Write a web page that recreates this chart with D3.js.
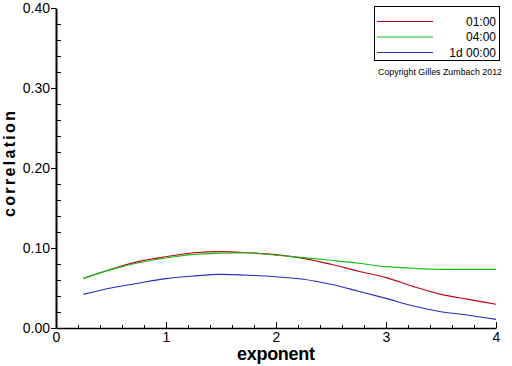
<!DOCTYPE html>
<html>
<head>
<meta charset="utf-8">
<script src="https://cdn.jsdelivr.net/npm/d3@7"></script>
<style>
  body { margin: 0; background: #fff; }
  svg { display: block; }
  .tick text { font-family: "Liberation Sans", Arial, sans-serif; fill: #000; }
</style>
</head>
<body>
<div id="chart"></div>
<script>
// exponent values on the x axis
var exponents = [0.25, 0.5, 0.75, 1, 1.25, 1.5, 1.75, 2, 2.25, 2.5, 2.75, 3, 3.25, 3.5, 3.75, 4];
// correlation per time horizon
var corr0100 = [0.062, 0.0735, 0.083, 0.089, 0.094, 0.0955, 0.094, 0.0917, 0.087, 0.0796, 0.071, 0.063, 0.0517, 0.042, 0.0358, 0.0296];
var corr0400 = [0.062, 0.073, 0.0815, 0.0875, 0.092, 0.0935, 0.094, 0.091, 0.088, 0.0846, 0.081, 0.0767, 0.0746, 0.0733, 0.0733, 0.0733];
var corr1d = [0.042, 0.050, 0.056, 0.0617, 0.065, 0.067, 0.066, 0.064, 0.061, 0.0546, 0.046, 0.037, 0.0275, 0.0204, 0.016, 0.0108];
var seriesNames = ["01:00", "04:00", "1d 00:00"];
var seriesColors = ["#c00010", "#10c010", "#2a2ac0"];
var xTicks = [0, 1, 2, 3, 4];
var yTicks = [0, 0.1, 0.2, 0.3, 0.4];

(function() {
  var width = 512, height = 366;
  var pad = {left: 56, right: 16, top: 8, bottom: 38};
  var seriesValues = [corr0100, corr0400, corr1d];

  var svg = d3.select("#chart").append("svg")
    .attr("width", width)
    .attr("height", height);

  var x = d3.scaleLinear().domain([0, 4]).range([pad.left, width - pad.right]);
  var y = d3.scaleLinear().domain([0, 0.4]).range([height - pad.bottom, pad.top]);

  // minor ticks, pointing inside the plot
  var xMinor = d3.range(0, 4.001, 0.2).filter(function(v) { return Math.abs(v - Math.round(v)) > 1e-6; });
  var yMinor = d3.range(0, 0.4001, 0.02).filter(function(v) { return Math.abs(v * 10 - Math.round(v * 10)) > 1e-6; });

  svg.append("g")
    .attr("transform", "translate(0," + y(0) + ")")
    .call(d3.axisBottom(x).tickValues(xMinor).tickSize(-3).tickSizeOuter(0).tickFormat(""))
    .call(function(g) { g.select(".domain").remove(); });

  svg.append("g")
    .attr("transform", "translate(" + x(0) + ",0)")
    .call(d3.axisRight(y).tickValues(yMinor).tickSize(5).tickSizeOuter(0).tickFormat(""))
    .call(function(g) { g.select(".domain").remove(); });

  var xAxis = svg.append("g")
    .attr("transform", "translate(0," + y(0) + ")")
    .call(d3.axisBottom(x).tickValues(xTicks).tickSize(-6).tickSizeOuter(0).tickPadding(4).tickFormat(d3.format("d")));
  xAxis.selectAll("text").style("font-size", "14px");
  xAxis.select(".domain").attr("stroke-width", 1.5);

  var yAxis = svg.append("g")
    .attr("transform", "translate(" + x(0) + ",0)")
    .call(d3.axisLeft(y).tickValues(yTicks).tickSize(5).tickSizeOuter(0).tickPadding(1).tickFormat(d3.format(".2f")));
  yAxis.selectAll("text").style("font-size", "14px");
  yAxis.select(".domain").attr("stroke-width", 2);

  // curves
  var line = d3.line()
    .x(function(d, i) { return x(exponents[i]); })
    .y(function(d) { return y(d); })
    .curve(d3.curveMonotoneX);

  svg.selectAll("path.series")
    .data(seriesValues)
    .enter().append("path")
    .attr("class", "series")
    .attr("fill", "none")
    .attr("stroke", function(d, i) { return seriesColors[i]; })
    .attr("stroke-width", 1.1)
    .attr("d", line);

  // axis titles
  svg.append("text")
    .attr("x", (x(0) + x(4)) / 2)
    .attr("y", 360)
    .attr("text-anchor", "middle")
    .attr("textLength", 78)
    .attr("lengthAdjust", "spacing")
    .style("font-family", "'Liberation Sans', Arial, sans-serif")
    .style("font-weight", "bold")
    .style("font-size", "18px")
    .text("exponent");

  svg.append("text")
    .attr("transform", "translate(15,164) rotate(-90)")
    .attr("text-anchor", "middle")
    .attr("textLength", 106)
    .attr("lengthAdjust", "spacing")
    .style("font-family", "'Liberation Sans', Arial, sans-serif")
    .style("font-weight", "bold")
    .style("font-size", "16px")
    .text("correlation");

  // legend
  var legend = svg.append("g");
  legend.append("rect")
    .attr("x", 374.5)
    .attr("y", 6.5)
    .attr("width", 125)
    .attr("height", 54)
    .attr("fill", "#fff")
    .attr("stroke", "#000");

  var rows = legend.selectAll("g.row")
    .data(seriesNames)
    .enter().append("g")
    .attr("class", "row")
    .attr("transform", function(d, i) { return "translate(0," + (21.5 + i * 15.5) + ")"; });
  rows.append("line")
    .attr("x1", 377)
    .attr("x2", 433)
    .attr("y1", 0)
    .attr("y2", 0)
    .style("stroke-width", 1)
    .style("stroke", function(d) { return seriesColors[seriesNames.indexOf(d)]; });
  rows.append("text")
    .attr("x", 496)
    .attr("y", 0)
    .attr("dy", "0.36em")
    .attr("text-anchor", "end")
    .style("font-family", "'Liberation Sans', Arial, sans-serif")
    .style("font-size", "12px")
    .text(function(d) { return d; });

  svg.append("text")
    .attr("x", 378)
    .attr("y", 75)
    .attr("textLength", 124)
    .attr("lengthAdjust", "spacingAndGlyphs")
    .style("font-family", "'Liberation Sans', Arial, sans-serif")
    .style("font-size", "8.5px")
    .text("Copyright Gilles Zumbach 2012");
})();
</script>
</body>
</html>
